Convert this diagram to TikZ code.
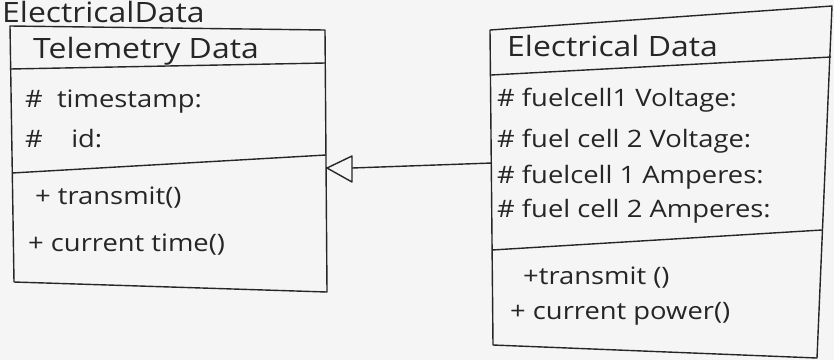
\documentclass[tikz,border=0pt]{standalone}
\usepackage{fontspec}
\setmainfont{Open Sans}[FakeStretch=1.14]
\begin{document}
\begin{tikzpicture}[x=1pt,y=-1pt,
  ink/.style={draw=black!85, line width=1.4pt, line join=round},
  txt/.style={anchor=base west, text=black!85, font=\fontsize{24}{28}\selectfont, inner sep=0pt},
  hd/.style={txt, font=\fontsize{28}{32}\selectfont}]
\useasboundingbox[fill=black!4] (0,0) rectangle (834,360);
% heading at top
\node[hd] (top) at (2,22) {ElectricalData};
% left class
\coordinate (L1) at (10,26); \coordinate (L2) at (325,30);
\coordinate (L3) at (327,292); \coordinate (L4) at (14,282);
\draw[ink] (L1) -- (L2) -- (L3) -- (L4) -- cycle;
\coordinate (LHa) at (10,69); \coordinate (LHb) at (325,63);
\draw[ink] (LHa) -- (LHb);
\coordinate (LDa) at (12,173); \coordinate (LDb) at (326,155);
\draw[ink] (LDa) -- (LDb);
\node[hd] (tname) at (33,58) {Telemetry Data};
\node[txt] (ta1) at (25,107) {\#\ \ timestamp:};
\node[txt] (ta2) at (25,147) {\#\ \ \ \ id:};
\node[txt] (to1) at (35,204) {+ transmit()};
\node[txt] (to2) at (28,251) {+ current time()};
% right class
\coordinate (R1) at (490,30); \coordinate (R2) at (832,6);
\coordinate (R3) at (817,358); \coordinate (R4) at (493,345);
\draw[ink] (R1) -- (R2) -- (R3) -- (R4) -- cycle;
\coordinate (RHa) at (491,75); \coordinate (RHb) at (831,57);
\draw[ink] (RHa) -- (RHb);
\coordinate (RDa) at (492,250); \coordinate (RDb) at (822,230);
\draw[ink] (RDa) -- (RDb);
\node[hd] (ename) at (507,56) {Electrical Data};
\node[txt] (ea1) at (497,106) {\# fuelcell1 Voltage:};
\node[txt] (ea2) at (497,147) {\# fuel cell 2 Voltage:};
\node[txt] (ea3) at (497,183) {\# fuelcell 1 Amperes:};
\node[txt] (ea4) at (497,217) {\# fuel cell 2 Amperes:};
\node[txt] (eo1) at (523,284) {+transmit ()};
\node[txt] (eo2) at (510,319) {+ current power()};
% generalization arrow
\coordinate (tip) at (327,168);
\coordinate (ta) at (352,156); \coordinate (tb) at (352,182);
\coordinate (tm) at (352,168);
\coordinate (rs) at (492,163);
\draw[ink] (tip) -- (ta) -- (tb) -- cycle;
\draw[ink] (tm) -- (rs);
\end{tikzpicture}
\end{document}
